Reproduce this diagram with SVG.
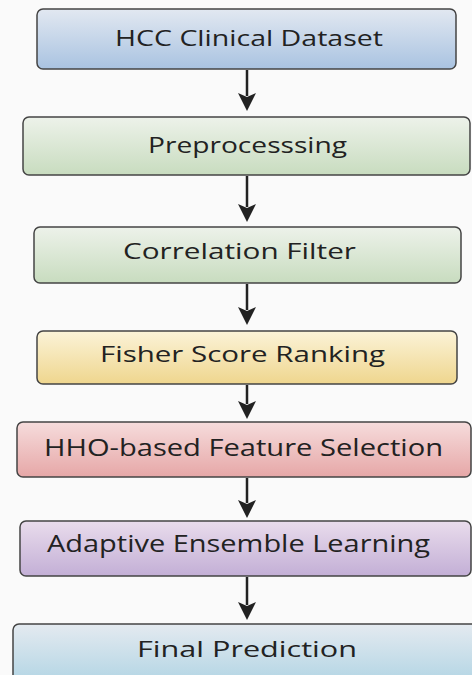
<svg xmlns="http://www.w3.org/2000/svg" width="472" height="675" viewBox="0 0 472 675">
  <defs>
    <linearGradient id="gBlue" x1="0" y1="0" x2="0" y2="1">
      <stop offset="0" stop-color="#e2e8f1"/>
      <stop offset="1" stop-color="#a9c3e1"/>
    </linearGradient>
    <linearGradient id="gGreen" x1="0" y1="0" x2="0" y2="1">
      <stop offset="0" stop-color="#edf2ea"/>
      <stop offset="1" stop-color="#c8dcbf"/>
    </linearGradient>
    <linearGradient id="gYellow" x1="0" y1="0" x2="0" y2="1">
      <stop offset="0" stop-color="#fbf3d8"/>
      <stop offset="1" stop-color="#efd68e"/>
    </linearGradient>
    <linearGradient id="gPink" x1="0" y1="0" x2="0" y2="1">
      <stop offset="0" stop-color="#f6dcdc"/>
      <stop offset="1" stop-color="#e6a7a7"/>
    </linearGradient>
    <linearGradient id="gPurple" x1="0" y1="0" x2="0" y2="1">
      <stop offset="0" stop-color="#e9dcec"/>
      <stop offset="1" stop-color="#c3afd6"/>
    </linearGradient>
    <linearGradient id="gSky" x1="0" y1="0" x2="0" y2="1">
      <stop offset="0" stop-color="#e4eaf0"/>
      <stop offset="1" stop-color="#a9d1e2"/>
    </linearGradient>
    <!-- shared arrowhead for the vertical flow connectors -->
    <path id="head" d="M-9,0 L0,4 L9,0 L0,18 Z" fill="#222"/>
  </defs>
  <style>
    .box { stroke: #444; stroke-width: 1.5; }
    .label { font-family: "Open Sans", "Noto Sans", "DejaVu Sans", sans-serif; font-size: 22px; fill: #222; text-anchor: middle; }
    .big { font-size: 23px; }
    .conn { stroke: #222; stroke-width: 2.5; fill: none; }
  </style>
  <rect width="472" height="675" fill="#fafafa"/>

  <g id="connectors">
    <line class="conn" x1="247" y1="70" x2="247" y2="96"/>
    <use href="#head" x="247" y="93"/>
    <line class="conn" x1="247" y1="176" x2="247" y2="207"/>
    <use href="#head" x="247" y="204"/>
    <line class="conn" x1="247" y1="284" x2="247" y2="310"/>
    <use href="#head" x="247" y="307"/>
    <line class="conn" x1="247" y1="385" x2="247" y2="404"/>
    <use href="#head" x="247" y="401"/>
    <line class="conn" x1="247" y1="478" x2="247" y2="503"/>
    <use href="#head" x="247" y="500"/>
    <line class="conn" x1="247" y1="577" x2="247" y2="605"/>
    <use href="#head" x="247" y="602"/>
  </g>

  <g id="hcc-dataset">
    <rect class="box" x="37" y="9" width="419" height="60" rx="6" fill="url(#gBlue)"/>
    <text class="label" x="249" y="46" textLength="268" lengthAdjust="spacingAndGlyphs">HCC Clinical Dataset</text>
  </g>
  <g id="preprocessing">
    <rect class="box" x="23" y="117" width="447" height="58" rx="6" fill="url(#gGreen)"/>
    <text class="label" x="247.5" y="153" textLength="199" lengthAdjust="spacingAndGlyphs">Preprocesssing</text>
  </g>
  <g id="correlation-filter">
    <rect class="box" x="34" y="227" width="427" height="56" rx="6" fill="url(#gGreen)"/>
    <text class="label" x="239.5" y="259" textLength="233" lengthAdjust="spacingAndGlyphs">Correlation Filter</text>
  </g>
  <g id="fisher-score">
    <rect class="box" x="37" y="331" width="420" height="53" rx="6" fill="url(#gYellow)"/>
    <text class="label" x="242.5" y="362" textLength="285" lengthAdjust="spacingAndGlyphs">Fisher Score Ranking</text>
  </g>
  <g id="hho-selection">
    <rect class="box" x="17" y="422" width="454" height="55" rx="6" fill="url(#gPink)"/>
    <text class="label big" x="243.5" y="456" textLength="399" lengthAdjust="spacingAndGlyphs">HHO-based Feature Selection</text>
  </g>
  <g id="ensemble-learning">
    <rect class="box" x="20" y="521" width="451" height="55" rx="6" fill="url(#gPurple)"/>
    <text class="label big" x="238.5" y="552" textLength="383" lengthAdjust="spacingAndGlyphs">Adaptive Ensemble Learning</text>
  </g>
  <g id="final-prediction">
    <rect class="box" x="13" y="624" width="470" height="70" rx="6" fill="url(#gSky)"/>
    <text class="label" x="247" y="657" textLength="220" lengthAdjust="spacingAndGlyphs">Final Prediction</text>
  </g>
</svg>
